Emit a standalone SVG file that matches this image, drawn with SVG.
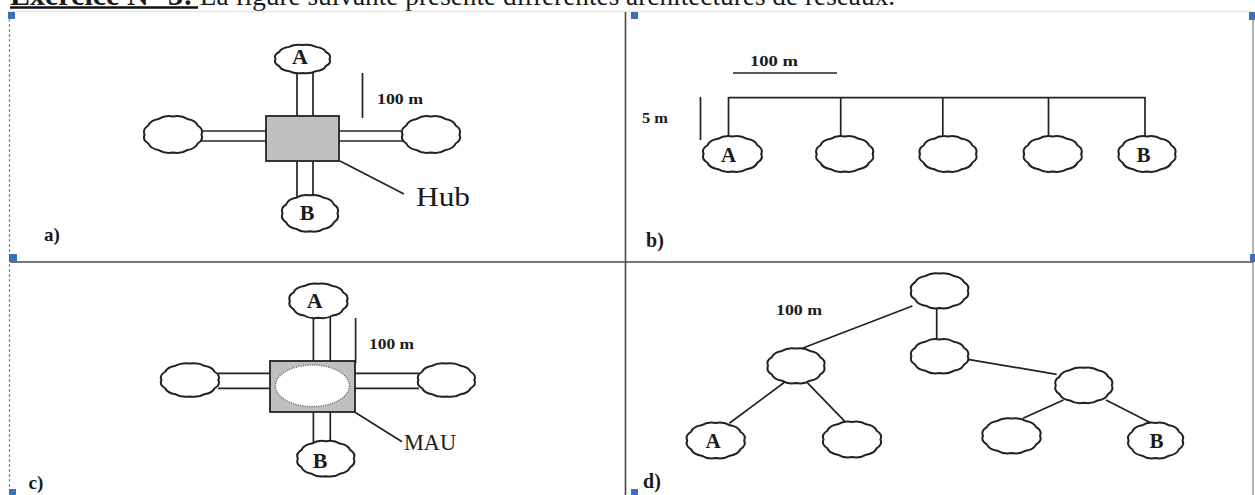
<svg xmlns="http://www.w3.org/2000/svg" xmlns:xlink="http://www.w3.org/1999/xlink" width="1255" height="495" viewBox="0 0 1255 495">
<style>
.ln{stroke:#222;stroke-width:1.7;fill:none;stroke-linecap:butt}
.nd{fill:#fff;stroke:#222;stroke-width:2}
.box{fill:#c0c0c0;stroke:#222;stroke-width:1.8}
.lbl{font-family:"Liberation Serif","Times New Roman",serif;font-weight:bold;fill:#1a1a1a;text-anchor:middle}
.sc{font-family:"Liberation Serif","Times New Roman",serif;font-weight:bold;font-size:15.5px;fill:#1a1a1a}
.nm{font-family:"Liberation Serif","Times New Roman",serif;fill:#1a1a1a}
.hd{fill:#3f6fb8}
.frm{stroke:#4a4a4a;stroke-width:1.6;fill:none}
</style>
<defs>
<path id="nd" vector-effect="non-scaling-stroke" d="M1,0 Q1.082,0.29 0.866,0.5 Q0.792,0.792 0.5,0.866 Q0.29,1.082 0,1 Q-0.29,1.082 -0.5,0.866 Q-0.792,0.792 -0.866,0.5 Q-1.082,0.29 -1,0 Q-1.082,-0.29 -0.866,-0.5 Q-0.792,-0.792 -0.5,-0.866 Q-0.29,-1.082 0,-1 Q0.29,-1.082 0.5,-0.866 Q0.792,-0.792 0.866,-0.5 Q1.082,-0.29 1,0 Z"/>
</defs>
<rect width="1255" height="495" fill="#fff"/>

<!-- title -->
<g id="title">
<text x="10" y="5" class="nm" font-size="30"><tspan font-weight="bold">Exercice N° 3:</tspan><tspan font-size="27.3"> La figure suivante présente différentes architectures de réseaux.</tspan></text>
<line x1="10" y1="7.5" x2="198" y2="7.5" stroke="#111" stroke-width="2.5"/>
</g>

<!-- frame -->
<g id="frame">
<line x1="8" y1="11.5" x2="1253" y2="11.5" stroke="#e6e6e6" stroke-width="1.5"/>
<line x1="9.5" y1="14" x2="9.5" y2="495" stroke="#5a8fd8" stroke-width="1.2" stroke-dasharray="3 2"/>
<line x1="1253" y1="18" x2="1253" y2="495" stroke="#9a9a9a" stroke-width="1.5"/>
<line x1="625.5" y1="12" x2="625.5" y2="495" class="frm"/>
<line x1="10" y1="262" x2="1253" y2="262" class="frm" stroke-width="2"/>
<rect class="hd" x="8" y="12" width="7" height="7"/>
<rect class="hd" x="631" y="12" width="7" height="7"/>
<rect class="hd" x="1249" y="12" width="6" height="8"/>
<rect class="hd" x="9" y="254" width="8" height="8"/>
<rect class="hd" x="1250" y="254" width="5" height="8"/>
<rect class="hd" x="9" y="489" width="7" height="6"/>
<rect class="hd" x="631" y="489" width="7" height="6"/>
</g>

<!-- connectors -->
<g id="connectors">
<!-- a) star with hub -->
<line class="ln" x1="297" y1="72" x2="297" y2="116"/>
<line class="ln" x1="313" y1="72" x2="313" y2="116"/>
<line class="ln" x1="201" y1="131" x2="266" y2="131"/>
<line class="ln" x1="201" y1="141" x2="266" y2="141"/>
<line class="ln" x1="339" y1="131" x2="403" y2="131"/>
<line class="ln" x1="339" y1="141" x2="403" y2="141"/>
<line class="ln" x1="297" y1="161" x2="297" y2="197"/>
<line class="ln" x1="313" y1="161" x2="313" y2="197"/>
<line class="ln" x1="362.5" y1="73" x2="362.5" y2="118"/>
<line class="ln" x1="340" y1="161" x2="404" y2="194"/>
<!-- b) bus -->
<line class="ln" x1="733" y1="73" x2="837" y2="73"/>
<line class="ln" x1="728.5" y1="97.7" x2="1145" y2="97.7"/>
<line class="ln" x1="728.5" y1="97" x2="728.5" y2="137"/>
<line class="ln" x1="840.7" y1="97" x2="840.7" y2="137"/>
<line class="ln" x1="942.8" y1="97" x2="942.8" y2="137"/>
<line class="ln" x1="1048.5" y1="97" x2="1048.5" y2="137"/>
<line class="ln" x1="1145" y1="97" x2="1145" y2="137"/>
<line class="ln" x1="700.5" y1="97" x2="700.5" y2="140"/>
<!-- c) ring with MAU -->
<line class="ln" x1="313.4" y1="317" x2="313.4" y2="361"/>
<line class="ln" x1="330.3" y1="317" x2="330.3" y2="361"/>
<line class="ln" x1="218" y1="373.3" x2="270" y2="373.3"/>
<line class="ln" x1="218" y1="388.3" x2="270" y2="388.3"/>
<line class="ln" x1="355" y1="373.3" x2="419" y2="373.3"/>
<line class="ln" x1="355" y1="388.3" x2="419" y2="388.3"/>
<line class="ln" x1="313.4" y1="412" x2="313.4" y2="442"/>
<line class="ln" x1="330.3" y1="412" x2="330.3" y2="442"/>
<line class="ln" x1="355.6" y1="318" x2="355.6" y2="363"/>
<line class="ln" x1="355" y1="412.3" x2="402" y2="441.7"/>
<!-- d) tree -->
<line class="ln" x1="912.4" y1="306" x2="802.3" y2="348.3"/>
<line class="ln" x1="936.7" y1="308" x2="936.7" y2="339.5"/>
<line class="ln" x1="968" y1="359.3" x2="1056.6" y2="374.3"/>
<line class="ln" x1="785.2" y1="381.7" x2="729.4" y2="423.3"/>
<line class="ln" x1="806.3" y1="381.7" x2="846" y2="422.7"/>
<line class="ln" x1="1063.5" y1="400" x2="1023" y2="418.3"/>
<line class="ln" x1="1106" y1="400" x2="1150.6" y2="422.7"/>
</g>

<!-- panel a -->
<g id="a-hub"><rect class="box" x="266" y="116" width="73" height="45"/></g>
<g id="a-node-A"><use href="#nd" class="nd" transform="translate(302.5 59) scale(27 14)"/><text class="lbl" x="300" y="64" font-size="22">A</text></g>
<g id="a-node-left"><use href="#nd" class="nd" transform="translate(173 134.5) scale(28.5 18)"/></g>
<g id="a-node-right"><use href="#nd" class="nd" transform="translate(431 134.5) scale(28.5 18)"/></g>
<g id="a-node-B"><use href="#nd" class="nd" transform="translate(310 213.3) scale(27.5 18)"/><text class="lbl" x="307" y="220" font-size="22">B</text></g>
<text class="sc" x="377" y="104" textLength="46" lengthAdjust="spacingAndGlyphs">100 m</text>
<text class="nm" x="416" y="206" font-size="27" textLength="54" lengthAdjust="spacingAndGlyphs">Hub</text>
<text class="lbl" x="52" y="241" font-size="19">a)</text>

<!-- panel b -->
<text class="sc" x="750" y="65.7" textLength="48" lengthAdjust="spacingAndGlyphs">100 m</text>
<text class="sc" x="642" y="123" textLength="26" lengthAdjust="spacingAndGlyphs">5 m</text>
<g id="b-node-A"><use href="#nd" class="nd" transform="translate(732.4 154) scale(28.8 17.5)"/><text class="lbl" x="728.5" y="161.5" font-size="21">A</text></g>
<g id="b-node-2"><use href="#nd" class="nd" transform="translate(844.7 154) scale(28 17.5)"/></g>
<g id="b-node-3"><use href="#nd" class="nd" transform="translate(948 154) scale(28 17.5)"/></g>
<g id="b-node-4"><use href="#nd" class="nd" transform="translate(1052.7 154) scale(28.5 17.5)"/></g>
<g id="b-node-B"><use href="#nd" class="nd" transform="translate(1147 154) scale(28 17.5)"/><text class="lbl" x="1143.5" y="161.5" font-size="21">B</text></g>
<text class="lbl" x="655" y="247" font-size="20">b)</text>

<!-- panel c -->
<g id="c-mau"><rect class="box" x="270" y="361" width="85" height="51"/><ellipse cx="312.4" cy="385.8" rx="37" ry="20.8" fill="#fff" stroke="#666" stroke-width="1.5" stroke-dasharray="1 1.3"/></g>
<g id="c-node-A"><use href="#nd" class="nd" transform="translate(318.4 300.8) scale(28.5 17)"/><text class="lbl" x="314.6" y="307.5" font-size="22">A</text></g>
<g id="c-node-left"><use href="#nd" class="nd" transform="translate(189.9 380) scale(28.5 16.5)"/></g>
<g id="c-node-right"><use href="#nd" class="nd" transform="translate(446.4 380) scale(28 16.5)"/></g>
<g id="c-node-B"><use href="#nd" class="nd" transform="translate(325.8 458.7) scale(28 17.5)"/><text class="lbl" x="320.2" y="467.5" font-size="22">B</text></g>
<text class="sc" x="369" y="349" textLength="45" lengthAdjust="spacingAndGlyphs">100 m</text>
<text class="nm" x="404" y="450" font-size="23" textLength="52" lengthAdjust="spacingAndGlyphs">MAU</text>
<text class="lbl" x="36" y="489" font-size="19">c)</text>

<!-- panel d -->
<text class="sc" x="776" y="315" textLength="46" lengthAdjust="spacingAndGlyphs">100 m</text>
<g id="d-node-root"><use href="#nd" class="nd" transform="translate(939.6 290.8) scale(28.2 17.2)"/></g>
<g id="d-node-left"><use href="#nd" class="nd" transform="translate(796 365.8) scale(28 17.2)"/></g>
<g id="d-node-mid"><use href="#nd" class="nd" transform="translate(939.6 356.3) scale(28.2 16.8)"/></g>
<g id="d-node-right"><use href="#nd" class="nd" transform="translate(1083.8 385.3) scale(28 17.5)"/></g>
<g id="d-node-A"><use href="#nd" class="nd" transform="translate(715.7 440.5) scale(28.5 17.5)"/><text class="lbl" x="713" y="447.5" font-size="21">A</text></g>
<g id="d-node-2"><use href="#nd" class="nd" transform="translate(852 439.5) scale(28.5 17.5)"/></g>
<g id="d-node-3"><use href="#nd" class="nd" transform="translate(1011.5 435.8) scale(28.5 17.2)"/></g>
<g id="d-node-B"><use href="#nd" class="nd" transform="translate(1155.6 440.5) scale(27 17.5)"/><text class="lbl" x="1156.6" y="447.5" font-size="21">B</text></g>
<text class="lbl" x="652" y="488" font-size="20">d)</text>
</svg>
